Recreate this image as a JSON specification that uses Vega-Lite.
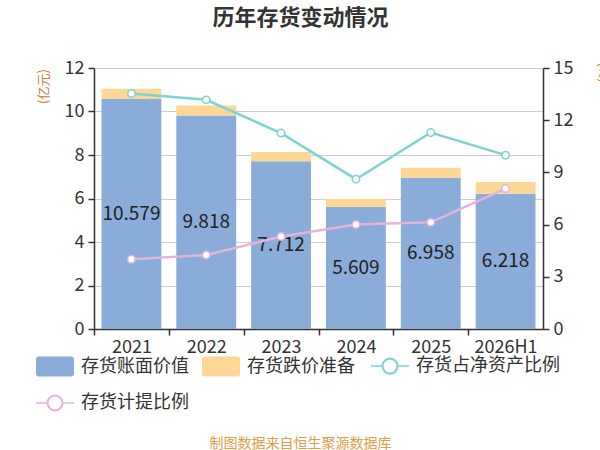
{
  "$schema": "https://vega.github.io/schema/vega-lite/v6.json",
  "autosize": {"type": "none"},
  "width": 449,
  "height": 261,
  "padding": {"left": 94, "top": 68, "right": 57, "bottom": 121},
  "background": "white",
  "title": {
    "text": "历年存货变动情况",
    "anchor": "middle",
    "dx": -18,
    "offset": 29,
    "fontSize": 22,
    "fontWeight": "bold",
    "color": "#333333",
    "font": "Noto Sans CJK SC"
  },
  "config": {
    "font": "Noto Sans CJK SC",
    "view": {"stroke": null},
    "axis": {
      "labelFont": "Noto Sans CJK SC",
      "labelFontSize": 18,
      "labelColor": "#333333",
      "domainColor": "#333333",
      "domainWidth": 1.5,
      "tickColor": "#333333",
      "tickWidth": 1.5,
      "tickSize": 6,
      "labelPadding": 4,
      "gridColor": "#cccccc",
      "gridWidth": 1,
      "titleFont": "Noto Sans CJK SC",
      "titleFontWeight": "normal"
    }
  },
  "data": {
    "values": [
      {"year": "2021", "series": "存货账面价值", "value": 10.579},
      {"year": "2022", "series": "存货账面价值", "value": 9.818},
      {"year": "2023", "series": "存货账面价值", "value": 7.712},
      {"year": "2024", "series": "存货账面价值", "value": 5.609},
      {"year": "2025", "series": "存货账面价值", "value": 6.958},
      {"year": "2026H1", "series": "存货账面价值", "value": 6.218},
      {"year": "2021", "series": "存货跌价准备", "value": 0.47},
      {"year": "2022", "series": "存货跌价准备", "value": 0.46},
      {"year": "2023", "series": "存货跌价准备", "value": 0.43},
      {"year": "2024", "series": "存货跌价准备", "value": 0.37},
      {"year": "2025", "series": "存货跌价准备", "value": 0.46},
      {"year": "2026H1", "series": "存货跌价准备", "value": 0.54},
      {"year": "2021", "series": "存货占净资产比例", "value": 13.54},
      {"year": "2022", "series": "存货占净资产比例", "value": 13.17},
      {"year": "2023", "series": "存货占净资产比例", "value": 11.26},
      {"year": "2024", "series": "存货占净资产比例", "value": 8.61},
      {"year": "2025", "series": "存货占净资产比例", "value": 11.29},
      {"year": "2026H1", "series": "存货占净资产比例", "value": 9.99},
      {"year": "2021", "series": "存货计提比例", "value": 4.01},
      {"year": "2022", "series": "存货计提比例", "value": 4.25},
      {"year": "2023", "series": "存货计提比例", "value": 5.32},
      {"year": "2024", "series": "存货计提比例", "value": 6.01},
      {"year": "2025", "series": "存货计提比例", "value": 6.13},
      {"year": "2026H1", "series": "存货计提比例", "value": 8.07}
    ]
  },
  "encoding": {
    "x": {
      "field": "year",
      "type": "nominal",
      "sort": null,
      "scale": {"paddingInner": 0.2, "paddingOuter": 0.1},
      "title": "制图数据来自恒生聚源数据库",
      "axis": {
        "labelAngle": 0,
        "tickOffset": -37.4,
        "labelOffset": 37.4,
        "labelPadding": 3,
        "titleX": 206,
        "titleY": 114,
        "titleAlign": "center",
        "titleBaseline": "middle",
        "titleFontSize": 14,
        "titleColor": "#d9a04a"
      }
    }
  },
  "layer": [
    {
      "transform": [{"filter": "datum.series === '存货账面价值' || datum.series === '存货跌价准备'"}],
      "mark": {"type": "bar"},
      "encoding": {
        "y": {
          "field": "value",
          "type": "quantitative",
          "stack": "zero",
          "scale": {"domain": [0, 12]},
          "title": "(亿元)",
          "axis": {
            "values": [0, 2, 4, 6, 8, 10, 12],
            "grid": true,
            "titleX": -51,
            "titleY": 18,
            "titleAlign": "center",
            "titleBaseline": "middle",
            "titleFontSize": 13,
            "titleColor": "#cc7a33"
          }
        },
        "order": {"field": "series", "sort": "ascending"},
        "color": {
          "field": "series",
          "type": "nominal",
          "scale": {
            "domain": ["存货账面价值", "存货跌价准备", "存货占净资产比例", "存货计提比例"],
            "range": ["#8aacd8", "#fdd795", "#7dd3d4", "#e4b3d9"]
          },
          "legend": {
            "title": null,
            "orient": "none",
            "legendX": -48,
            "legendY": 289,
            "direction": "horizontal",
            "columns": 3,
            "columnPadding": 13,
            "rowPadding": 15,
            "padding": 0,
            "symbolSize": 400,
            "labelOffset": 17,
            "labelFontSize": 18,
            "labelColor": "#333333",
            "labelFont": "Noto Sans CJK SC",
            "labelLimit": 300,
            "encode": {
              "symbols": {
                "update": {
                  "shape": {"signal": "(datum.value === '存货账面价值' || datum.value === '存货跌价准备') ? 'M-1.6,-1H1.6Q1.9,-1 1.9,-0.7V0.7Q1.9,1 1.6,1H-1.6Q-1.9,1 -1.9,0.7V-0.7Q-1.9,-1 -1.6,-1Z' : 'M-1.9,0H-0.75M0.75,0H1.9M-0.78,0A0.78,0.78 0 1 1 0.78,0A0.78,0.78 0 1 1 -0.78,0ZM-0.72,0A0.72,0.72 0 1 0 0.72,0A0.72,0.72 0 1 0 -0.72,0Z'"},
                  "fill": {"signal": "scale('color', datum.value)"},
                  "stroke": {"signal": "scale('color', datum.value)"},
                  "strokeWidth": {"signal": "(datum.value === '存货账面价值' || datum.value === '存货跌价准备') ? 0 : 1.5"},
                  "opacity": {"value": 1},
                  "fillOpacity": {"value": 1}
                }
              }
            }
          }
        }
      }
    },
    {
      "transform": [{"filter": "datum.series === '存货账面价值'"}],
      "mark": {"type": "text", "fontSize": 19, "color": "#222222", "baseline": "middle"},
      "encoding": {
        "y": {"field": "value", "type": "quantitative", "scale": {"domain": [0, 24]}, "axis": null},
        "text": {"field": "value", "type": "quantitative", "format": ".3f"}
      }
    },
    {
      "transform": [{"filter": "datum.series === '存货占净资产比例' || datum.series === '存货计提比例'"}],
      "encoding": {
        "y": {
          "field": "value",
          "type": "quantitative",
          "scale": {"domain": [0, 15]},
          "title": "(%)",
          "axis": {
            "orient": "right",
            "values": [0, 3, 6, 9, 12, 15],
            "grid": false,
            "titleX": 59,
            "titleY": 4,
            "titleAngle": 90,
            "titleAlign": "center",
            "titleBaseline": "middle",
            "titleFontSize": 13,
            "titleColor": "#cc7a33"
          }
        },
        "color": {"field": "series", "type": "nominal"}
      },
      "layer": [
        {"mark": {"type": "line", "strokeWidth": 2.5}},
        {"mark": {"type": "point", "filled": false, "fill": "white", "size": 55, "strokeWidth": 1.5, "opacity": 1}}
      ]
    }
  ],
  "resolve": {"scale": {"y": "independent"}}
}
